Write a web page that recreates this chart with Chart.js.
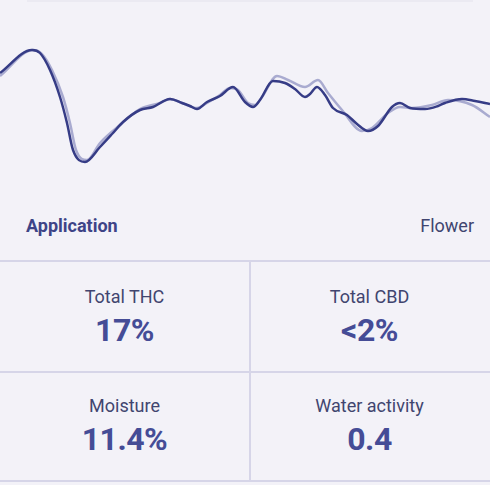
<!DOCTYPE html>
<html>
<head>
<meta charset="utf-8">
<script src="https://cdn.jsdelivr.net/npm/chart.js@4"></script>
<style>
    body { margin: 0; background: #f3f2f8; font-family: Roboto, sans-serif; width: 490px; height: 485px; overflow: hidden; position: relative; }
    .top-edge { position: absolute; left: 27px; width: 446px; top: 0; height: 2px; background: #ebeaf2; }
    .chart-box { position: absolute; left: 0; top: 0; width: 490px; height: 200px; }
    .app-row { position: absolute; left: 26px; right: 16px; top: 215px; font-size: 18px; color: #3e4487; }
    .app-row b { font-weight: 700; }
    .app-row span { position: absolute; right: 0; top: 0; color: #40456f; }
    .grid { position: absolute; left: 0; top: 260px; width: 490px; border-top: 2px solid #d6d5e8; }
    .cell { position: absolute; width: 249px; height: 109px; text-align: center; border-bottom: 2px solid #d6d5e8; }
    .cell .label { position: absolute; left: 0; right: 0; top: 24px; font-size: 18px; color: #41456f; }
    .cell .value { position: absolute; left: 0; right: 0; top: 49px; font-size: 32px; font-weight: 700; color: #454c96; letter-spacing: -0.5px; }
</style>
</head>
<body>
<div class="top-edge"></div>
<div class="chart-box"><canvas id="curveChart" width="490" height="200"></canvas></div>
<div class="app-row"><b>Application</b><span>Flower</span></div>
<div class="grid" id="grid"></div>

<script>
// Curve data (position along the trace, signal level)
const darkX = [0, 32, 40, 50, 60, 67, 73, 85, 100, 113, 123, 140, 153, 170, 182, 190, 197, 207, 220, 233, 245, 253, 260, 273, 285, 295, 305, 310, 317, 325, 333, 347, 357, 368, 378, 392, 400, 410, 425, 438, 445, 462, 475, 490];
const darkY = [127, 150, 147, 130, 103, 77, 50, 38, 53, 67, 78, 90, 93, 101, 97, 94, 91, 98, 104, 113, 98, 93, 100, 119, 117, 111, 103, 106, 113, 105, 92, 85, 76, 69, 74, 93, 97, 92, 91, 94, 97, 101, 99, 96];

const lightX = [0, 33, 42, 52, 63, 70, 76, 87, 100, 120, 140, 160, 170, 182, 197, 207, 220, 230, 238, 248, 255, 262, 277, 288, 305, 318, 328, 342, 362, 372, 388, 400, 412, 432, 448, 472, 490];
const lightY = [124, 150, 146, 130, 103, 77, 50, 40, 57, 75, 91, 97, 101, 97, 92, 97, 105, 112, 110, 97, 95, 103, 124, 120, 113, 120, 107, 90, 69, 72, 87, 93, 92, 95, 100, 95, 83];

// Result cells
const resultLabels = ['Total THC', 'Total CBD', 'Moisture', 'Water activity'];
const resultValues = ['17%', '<2%', '11.4%', '0.4'];

const toPoints = (xs, ys) => xs.map((x, i) => ({ x: x, y: ys[i] }));

const curveCtx = document.getElementById('curveChart').getContext('2d');
new Chart(curveCtx, {
    type: 'line',
    data: {
        datasets: [{
            label: 'Sample',
            data: toPoints(darkX, darkY),
            borderColor: '#363c86',
            borderWidth: 2.5,
            pointRadius: 0,
            cubicInterpolationMode: 'monotone'
        }, {
            label: 'Reference',
            data: toPoints(lightX, lightY),
            borderColor: '#a9abd0',
            borderWidth: 2.5,
            pointRadius: 0,
            cubicInterpolationMode: 'monotone'
        }]
    },
    options: {
        responsive: false,
        animation: false,
        layout: { padding: 0 },
        scales: {
            x: { type: 'linear', min: 0, max: 490, display: false },
            y: { min: 0, max: 200, display: false }
        },
        plugins: {
            legend: { display: false },
            tooltip: { enabled: false }
        }
    }
});

// Build result grid
const grid = document.getElementById('grid');
resultLabels.forEach((label, i) => {
    const cell = document.createElement('div');
    cell.className = 'cell';
    cell.style.left = (i % 2 === 0 ? 0 : 249) + 'px';
    cell.style.top = (i < 2 ? 0 : 109) + 'px';
    cell.style.width = (i % 2 === 0 ? 249 : 241) + 'px';
    if (i % 2 === 0) cell.style.borderRight = '2px solid #d6d5e8';
    const l = document.createElement('div');
    l.className = 'label';
    l.textContent = label;
    const v = document.createElement('div');
    v.className = 'value';
    v.textContent = resultValues[i];
    cell.appendChild(l);
    cell.appendChild(v);
    grid.appendChild(cell);
});
</script>
</body>
</html>
